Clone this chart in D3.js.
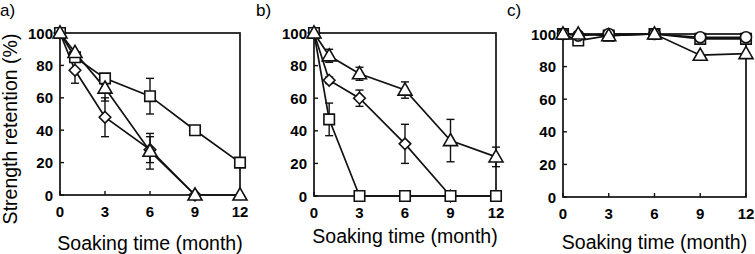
<!DOCTYPE html>
<html>
<head>
<meta charset="utf-8">
<script src="https://cdn.jsdelivr.net/npm/d3@7"></script>
<style>
  body { margin: 0; background: #fff; }
  svg { display: block; }
  text { font-family: "Liberation Sans", Arial, sans-serif; fill: #000; }
  .tick-label { font-size: 15px; font-weight: bold; }
  .axis-title { font-size: 19.5px; }
  .panel-label { font-size: 17px; }
</style>
</head>
<body>
<div id="chart"></div>
<script>
// months sampled
const months = [0, 1, 3, 6, 9, 12];
const xTicks = [0, 3, 6, 9, 12];
const yTicks = [0, 20, 40, 60, 80, 100];

// panel a
const aSquare = [100, 85, 72, 61, 40, 20];
const aSquareErr = [0, 0, 0, 11, 0, 0];
const aDiamond = [100, 77, 48, 28, 0];
const aDiamondErr = [0, 8, 12, 8, 0];
const aTriangle = [100, 88, 66, 27, 0, 0];
const aTriangleErr = [0, 0, 8, 11, 0, 0];

// panel b
const bSquare = [100, 47, 0, 0, 0, 0];
const bSquareErr = [0, 10, 0, 0, 0, 0];
const bDiamond = [100, 71, 60, 32, 0];
const bDiamondErr = [0, 2, 5, 12, 0];
const bTriangle = [100, 86, 75, 65, 34, 24];
const bTriangleErr = [0, 4, 4, 5, 13, 6];

// panel c
const cSquare = [100, 96, 99, 100, 97, 97];
const cCircle = [100, 99, 100, 100, 98, 98];
const cTriangle = [100, 100, 99, 100, 87, 88];

function toSeries(vals, errs, shape) {
    return {
        shape: shape,
        points: vals.map((v, i) => ({m: months[i], v: v, e: errs ? errs[i] : 0}))
    };
}

// series listed in drawing order (last one on top)
const panels = [
    {label: "a)", labelX: 0, left: 60, right: 240, top: 33, bottom: 195, titleY: 250,
     series: [toSeries(aDiamond, aDiamondErr, "diamond"), toSeries(aSquare, aSquareErr, "square"), toSeries(aTriangle, aTriangleErr, "triangle")]},
    {label: "b)", labelX: 256, left: 314, right: 496, top: 33, bottom: 196, titleY: 243,
     series: [toSeries(bDiamond, bDiamondErr, "diamond"), toSeries(bSquare, bSquareErr, "square"), toSeries(bTriangle, bTriangleErr, "triangle")]},
    {label: "c)", labelX: 507, left: 563, right: 746, top: 34, bottom: 197, titleY: 249,
     series: [toSeries(cSquare, null, "square"), toSeries(cCircle, null, "circle"), toSeries(cTriangle, null, "triangle")]}
];

const W = 755, H = 254;
const svg = d3.select("#chart").append("svg")
    .attr("width", W)
    .attr("height", H);

const symbols = {
    square: d3.symbol().type(d3.symbolSquare).size(110),
    diamond: d3.symbol().type(d3.symbolDiamond2).size(85),
    triangle: d3.symbol().type(d3.symbolTriangle).size(85),
    circle: d3.symbol().type(d3.symbolCircle).size(95)
};

panels.forEach(p => {
    let g = svg.append("g");

    let x = d3.scaleLinear().domain([0, 12]).range([p.left, p.right]);
    let y = d3.scaleLinear().domain([0, 100]).range([p.bottom, p.top]);

    // frame
    g.append("rect")
        .attr("x", p.left).attr("y", p.top)
        .attr("width", p.right - p.left).attr("height", p.bottom - p.top)
        .attr("fill", "none").attr("stroke", "#111").attr("stroke-width", 1.7);

    // inward ticks
    g.selectAll(".xtick").data(xTicks).enter().append("line")
        .attr("x1", d => x(d)).attr("x2", d => x(d))
        .attr("y1", p.bottom).attr("y2", p.bottom - 4)
        .attr("stroke", "#111").attr("stroke-width", 1.4);
    g.selectAll(".ytick").data(yTicks).enter().append("line")
        .attr("x1", p.left).attr("x2", p.left + 4)
        .attr("y1", d => y(d)).attr("y2", d => y(d))
        .attr("stroke", "#111").attr("stroke-width", 1.4);

    // tick labels
    g.selectAll(".xl").data(xTicks).enter().append("text")
        .attr("class", "tick-label")
        .attr("x", d => x(d)).attr("y", p.bottom + 22)
        .attr("text-anchor", "middle")
        .text(d => d);
    g.selectAll(".yl").data(yTicks).enter().append("text")
        .attr("class", "tick-label")
        .attr("x", p.left - 7).attr("y", d => y(d) + 5.5)
        .attr("text-anchor", "end")
        .text(d => d);

    // axis title
    g.append("text")
        .attr("class", "axis-title")
        .attr("x", (p.left + p.right) / 2).attr("y", p.titleY)
        .attr("text-anchor", "middle")
        .text("Soaking time (month)");

    g.append("text")
        .attr("class", "panel-label")
        .attr("x", p.labelX).attr("y", 16)
        .text(p.label);

    let line = d3.line().x(d => x(d.m)).y(d => y(d.v));

    // lines
    p.series.forEach(s => {
        g.append("path")
            .datum(s.points)
            .attr("d", line)
            .attr("fill", "none")
            .attr("stroke", "#111")
            .attr("stroke-width", 1.7);
    });

    // error bars
    p.series.forEach(s => {
        let withErr = s.points.filter(d => d.e > 0);
        let eb = g.selectAll(null).data(withErr).enter().append("g")
            .attr("stroke", "#111").attr("stroke-width", 1.4);
        eb.append("line")
            .attr("x1", d => x(d.m)).attr("x2", d => x(d.m))
            .attr("y1", d => y(d.v + d.e)).attr("y2", d => y(d.v - d.e));
        eb.append("line")
            .attr("x1", d => x(d.m) - 4).attr("x2", d => x(d.m) + 4)
            .attr("y1", d => y(d.v + d.e)).attr("y2", d => y(d.v + d.e));
        eb.append("line")
            .attr("x1", d => x(d.m) - 4).attr("x2", d => x(d.m) + 4)
            .attr("y1", d => y(d.v - d.e)).attr("y2", d => y(d.v - d.e));
    });

    // markers
    p.series.forEach(s => {
        g.selectAll(null).data(s.points).enter().append("path")
            .attr("d", symbols[s.shape])
            .attr("transform", d => "translate(" + x(d.m) + "," + (y(d.v) + (s.shape === "triangle" ? 1 : 0)) + ")")
            .attr("fill", "#fff")
            .attr("stroke", "#111")
            .attr("stroke-width", 1.6);
    });
});

// shared y-axis title
svg.append("text")
    .attr("class", "axis-title")
    .attr("transform", "translate(17,129) rotate(-90)")
    .attr("text-anchor", "middle")
    .text("Strength retention (%)");
</script>
</body>
</html>
